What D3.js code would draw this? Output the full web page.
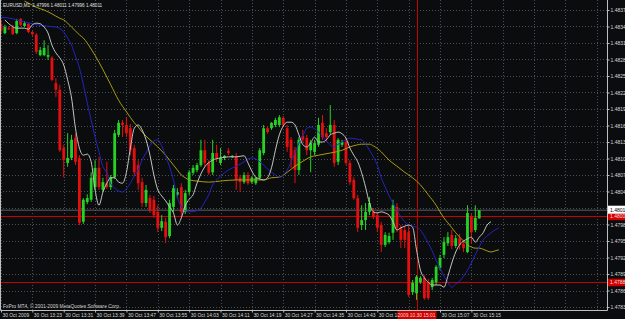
<!DOCTYPE html>
<html>
<head>
<meta charset="utf-8">
<script src="https://cdn.jsdelivr.net/npm/d3@7"></script>
<style>
html, body { margin: 0; padding: 0; background: #0b0c0d; }
svg { display: block; font-family: "Liberation Sans", Arial, sans-serif; }
</style>
</head>
<body>
<script>

const W = 625;
const H = 319;
const plotRight = 607;
const plotBottom = 310;

// EURUSD M1, 30 Oct 2009
const barTimes = [
  "13:15","13:16","13:17","13:18","13:19","13:20","13:21","13:22","13:23","13:24","13:25","13:26","13:27","13:28","13:29",
  "13:30","13:31","13:32","13:33","13:34","13:35","13:36","13:37","13:38","13:39","13:40","13:41","13:42","13:43","13:44",
  "13:45","13:46","13:47","13:48","13:49","13:50","13:51","13:52","13:53","13:54","13:55","13:56","13:57","13:58","13:59",
  "14:00","14:01","14:02","14:03","14:04","14:05","14:06","14:07","14:08","14:09","14:10","14:11","14:12","14:13","14:14",
  "14:15","14:16","14:17","14:18","14:19","14:20","14:21","14:22","14:23","14:24","14:25","14:26","14:27","14:28","14:29",
  "14:30","14:31","14:32","14:33","14:34","14:35","14:36","14:37","14:38","14:39","14:40","14:41","14:42","14:43","14:44",
  "14:45","14:46","14:47","14:48","14:49","14:50","14:51","14:52","14:53","14:54","14:55","14:56","14:57","14:58","14:59",
  "15:00","15:01","15:02","15:03","15:04","15:05","15:06","15:07","15:08","15:09","15:10","15:11","15:12","15:13","15:14",
  "15:15","15:16","15:17"
];

const opens = [
  1.48350,1.48333,1.48342,1.48344,1.48333,1.48359,1.48346,1.48350,1.48335,1.48330,1.48293,1.48293,1.48290,1.48288,1.48242,
  1.48230,1.48124,1.48097,1.48106,1.48142,1.48106,1.47990,1.48026,1.48030,1.48053,1.48088,1.48048,1.48060,1.48053,1.48071,
  1.48148,1.48170,1.48166,1.48160,1.48124,1.48093,1.48062,1.48024,1.48033,1.48030,1.48008,1.47979,1.47990,1.47964,1.48017,
  1.48039,1.48053,1.48008,1.48044,1.48079,1.48084,1.48093,1.48120,1.48097,1.48080,1.48115,1.48097,1.48106,1.48119,1.48108,
  1.48108,1.48070,1.48062,1.48075,1.48062,1.48060,1.48070,1.48115,1.48160,1.48160,1.48166,1.48166,1.48179,1.48160,1.48139,
  1.48120,1.48084,1.48146,1.48142,1.48120,1.48117,1.48130,1.48170,1.48151,1.48153,1.48166,1.48099,1.48130,1.48135,1.48097,
  1.48066,1.48033,1.47984,1.47993,1.48008,1.48008,1.48002,1.47984,1.47948,1.47953,1.47970,1.48017,1.47979,1.47975,1.47971,
  1.47862,1.47860,1.47880,1.47888,1.47880,1.47871,1.47880,1.47906,1.47930,1.47951,1.47966,1.47946,1.47960,1.47950,1.47935,
  1.48000,1.47975,1.47996
];
const highs = [
  1.48357,1.48348,1.48346,1.48348,1.48359,1.48360,1.48355,1.48351,1.48337,1.48333,1.48308,1.48320,1.48311,1.48291,1.48251,
  1.48239,1.48130,1.48151,1.48148,1.48151,1.48111,1.48033,1.48040,1.48080,1.48102,1.48108,1.48070,1.48099,1.48075,1.48157,
  1.48175,1.48175,1.48180,1.48168,1.48130,1.48102,1.48070,1.48057,1.48039,1.48037,1.48020,1.48002,1.47997,1.48030,1.48057,
  1.48051,1.48060,1.48048,1.48084,1.48093,1.48097,1.48139,1.48139,1.48102,1.48139,1.48130,1.48124,1.48111,1.48124,1.48111,
  1.48115,1.48075,1.48080,1.48080,1.48073,1.48071,1.48124,1.48166,1.48164,1.48171,1.48179,1.48184,1.48182,1.48166,1.48144,
  1.48126,1.48144,1.48157,1.48148,1.48139,1.48139,1.48179,1.48184,1.48160,1.48202,1.48175,1.48142,1.48139,1.48142,1.48102,
  1.48071,1.48039,1.48020,1.48024,1.48035,1.48015,1.48008,1.47990,1.47971,1.47970,1.48030,1.48024,1.47984,1.47982,1.47984,
  1.47884,1.47893,1.47891,1.47893,1.47886,1.47888,1.47911,1.47930,1.47962,1.47971,1.47975,1.47966,1.47968,1.47957,1.48020,
  1.48004,1.48020,1.48011
];
const lows = [
  1.48333,1.48331,1.48339,1.48330,1.48331,1.48346,1.48344,1.48333,1.48328,1.48295,1.48291,1.48291,1.48284,1.48246,1.48217,
  1.48117,1.48071,1.48090,1.48102,1.48093,1.47984,1.47986,1.48022,1.48026,1.48048,1.48048,1.48044,1.48050,1.48048,1.48068,
  1.48144,1.48144,1.48144,1.48111,1.48073,1.48048,1.48017,1.48017,1.48006,1.47997,1.47971,1.47973,1.47951,1.47960,1.48008,
  1.48033,1.47999,1.48004,1.48039,1.48075,1.48080,1.48090,1.48090,1.48075,1.48075,1.48099,1.48093,1.48102,1.48111,1.48106,
  1.48048,1.48044,1.48059,1.48057,1.48059,1.48057,1.48066,1.48111,1.48150,1.48157,1.48162,1.48162,1.48162,1.48117,1.48088,
  1.48060,1.48075,1.48135,1.48111,1.48080,1.48111,1.48126,1.48139,1.48135,1.48148,1.48090,1.48093,1.48126,1.48093,1.48057,
  1.48030,1.47971,1.47975,1.47975,1.48002,1.47995,1.47971,1.47935,1.47944,1.47950,1.47957,1.47971,1.47942,1.47942,1.47853,
  1.47857,1.47848,1.47877,1.47848,1.47848,1.47866,1.47875,1.47902,1.47924,1.47946,1.47940,1.47942,1.47939,1.47935,1.47933,
  1.47950,1.47971,1.47996
];
const closes = [
  1.48337,1.48344,1.48340,1.48331,1.48355,1.48348,1.48351,1.48335,1.48331,1.48299,1.48302,1.48306,1.48293,1.48248,1.48230,
  1.48120,1.48102,1.48106,1.48139,1.48099,1.47988,1.48030,1.48033,1.48070,1.48088,1.48053,1.48062,1.48053,1.48071,1.48151,
  1.48170,1.48166,1.48151,1.48120,1.48080,1.48060,1.48024,1.48048,1.48011,1.48002,1.47979,1.47991,1.47962,1.48024,1.48051,
  1.48044,1.48008,1.48042,1.48080,1.48088,1.48093,1.48120,1.48097,1.48079,1.48115,1.48106,1.48106,1.48110,1.48115,1.48110,
  1.48066,1.48062,1.48075,1.48060,1.48070,1.48070,1.48120,1.48160,1.48153,1.48170,1.48175,1.48180,1.48166,1.48126,1.48106,
  1.48084,1.48139,1.48139,1.48120,1.48133,1.48133,1.48166,1.48144,1.48144,1.48166,1.48097,1.48139,1.48135,1.48097,1.48062,
  1.48033,1.47979,1.47993,1.48008,1.48024,1.47999,1.47979,1.47948,1.47966,1.47964,1.48020,1.47979,1.47957,1.47957,1.47857,
  1.47879,1.47890,1.47888,1.47851,1.47851,1.47884,1.47908,1.47924,1.47953,1.47962,1.47946,1.47960,1.47948,1.47942,1.48006,
  1.47971,1.47997,1.48011
];

// moving averages (time, price)
const whiteMA = [
  ["13:16",1.48357],["13:17",1.48350],["13:19",1.48342],["13:21",1.48342],["13:22",1.48340],["13:23",1.48348],["13:24",1.48351],
  ["13:25",1.48350],["13:26",1.48344],["13:27",1.48333],["13:28",1.48311],["13:29",1.48297],["13:30",1.48288],["13:31",1.48275],
  ["13:32",1.48248],["13:33",1.48215],["13:34",1.48160],["13:35",1.48124],["13:36",1.48111],["13:37",1.48113],["13:38",1.48099],
  ["13:39",1.48048],["13:40",1.48020],["13:41",1.48044],["13:42",1.48060],["13:43",1.48070],["13:44",1.48070],["13:45",1.48062],
  ["13:46",1.48060],["13:47",1.48080],["13:48",1.48124],["13:49",1.48160],["13:50",1.48166],["13:51",1.48157],["13:52",1.48139],
  ["13:53",1.48111],["13:54",1.48075],["13:55",1.48048],["13:56",1.48037],["13:57",1.48028],["13:58",1.48017],["13:59",1.48006],
  ["14:00",1.47984],["14:01",1.47997],["14:02",1.48019],["14:03",1.48031],["14:04",1.48039],["14:05",1.48060],["14:07",1.48090],
  ["14:09",1.48102],["14:11",1.48106],["14:13",1.48108],["14:15",1.48108],["14:17",1.48110],["14:18",1.48097],["14:19",1.48082],
  ["14:20",1.48071],["14:21",1.48068],["14:22",1.48066],["14:23",1.48070],["14:24",1.48088],["14:25",1.48120],["14:26",1.48148],
  ["14:27",1.48164],["14:28",1.48171],["14:29",1.48171],["14:30",1.48166],["14:31",1.48148],["14:32",1.48130],["14:33",1.48126],
  ["14:34",1.48133],["14:35",1.48144],["14:36",1.48135],["14:37",1.48135],["14:38",1.48139],["14:39",1.48148],["14:40",1.48151],
  ["14:41",1.48153],["14:42",1.48150],["14:43",1.48142],["14:44",1.48124],["14:45",1.48111],["14:46",1.48099],["14:47",1.48079],
  ["14:48",1.48053],["14:49",1.48024],["14:50",1.48008],["14:51",1.48006],["14:52",1.48008],["14:53",1.48006],["14:54",1.48002],
  ["14:55",1.47990],["14:56",1.47975],["14:57",1.47979],["14:58",1.47982],["14:59",1.47984],["15:00",1.47980],["15:01",1.47939],
  ["15:02",1.47902],["15:03",1.47888],["15:04",1.47880],["15:05",1.47875],["15:06",1.47875],["15:07",1.47875],["15:08",1.47871],
  ["15:09",1.47891],["15:10",1.47915],["15:11",1.47935],["15:12",1.47948],["15:13",1.47955],["15:14",1.47959],["15:15",1.47962],
  ["15:16",1.47953],["15:17",1.47962],["15:18",1.47970],["15:19",1.47984],["15:20",1.47990]
];

const blueMA = [
  ["13:15",1.48362],["13:18",1.48359],["13:20",1.48355],["13:23",1.48350],["13:26",1.48346],["13:29",1.48344],["13:31",1.48335],
  ["13:32",1.48324],["13:33",1.48311],["13:34",1.48291],["13:35",1.48270],["13:36",1.48240],["13:37",1.48206],["13:38",1.48175],
  ["13:39",1.48144],["13:40",1.48117],["13:41",1.48090],["13:42",1.48079],["13:43",1.48059],["13:44",1.48051],["13:45",1.48046],
  ["13:46",1.48044],["13:47",1.48050],["13:48",1.48060],["13:49",1.48073],["13:50",1.48084],["13:51",1.48102],["13:52",1.48115],
  ["13:53",1.48128],["13:54",1.48137],["13:55",1.48139],["13:56",1.48128],["13:57",1.48110],["13:58",1.48090],["13:59",1.48066],
  ["14:00",1.48035],["14:01",1.48017],["14:02",1.48010],["14:03",1.48008],["14:05",1.48010],["14:06",1.48015],["14:07",1.48026],
  ["14:08",1.48039],["14:09",1.48057],["14:10",1.48066],["14:11",1.48073],["14:12",1.48079],["14:13",1.48084],["14:15",1.48091],
  ["14:17",1.48099],["14:18",1.48104],["14:19",1.48106],["14:20",1.48104],["14:21",1.48099],["14:22",1.48093],["14:23",1.48086],
  ["14:24",1.48080],["14:25",1.48075],["14:26",1.48071],["14:27",1.48075],["14:28",1.48084],["14:29",1.48099],["14:30",1.48115],
  ["14:31",1.48133],["14:32",1.48146],["14:33",1.48160],["14:34",1.48162],["14:35",1.48159],["14:36",1.48153],["14:37",1.48146],
  ["14:38",1.48137],["14:39",1.48130],["14:40",1.48126],["14:41",1.48131],["14:42",1.48135],["14:43",1.48139],["14:44",1.48142],
  ["14:46",1.48140],["14:47",1.48139],["14:48",1.48131],["14:49",1.48120],["14:50",1.48108],["14:51",1.48093],["14:52",1.48070],
  ["14:53",1.48053],["14:54",1.48037],["14:55",1.48024],["14:56",1.48011],["14:57",1.47999],["14:58",1.47990],["14:59",1.47984],
  ["15:00",1.47982],["15:01",1.47980],["15:02",1.47975],["15:03",1.47964],["15:04",1.47951],["15:05",1.47937],["15:06",1.47920],
  ["15:07",1.47906],["15:08",1.47891],["15:09",1.47880],["15:10",1.47871],["15:11",1.47877],["15:12",1.47882],["15:13",1.47891],
  ["15:14",1.47902],["15:15",1.47915],["15:16",1.47930],["15:17",1.47944],["15:18",1.47957],["15:19",1.47964],["15:20",1.47970],
  ["15:21",1.47975],["15:22",1.47979]
];

const yellowMA = [
  ["13:21",1.48391],["13:23",1.48384],["13:24",1.48380],["13:26",1.48375],["13:28",1.48368],["13:30",1.48360],["13:31",1.48357],
  ["13:33",1.48344],["13:35",1.48330],["13:36",1.48324],["13:38",1.48304],["13:40",1.48280],["13:42",1.48253],["13:43",1.48239],
  ["13:45",1.48211],["13:47",1.48190],["13:49",1.48170],["13:50",1.48162],["13:51",1.48153],["13:53",1.48139],["13:55",1.48126],
  ["13:57",1.48111],["13:59",1.48093],["14:00",1.48084],["14:01",1.48075],["14:02",1.48070],["14:03",1.48066],["14:05",1.48064],
  ["14:08",1.48062],["14:11",1.48064],["14:15",1.48066],["14:19",1.48066],["14:22",1.48066],["14:24",1.48070],["14:26",1.48071],
  ["14:28",1.48080],["14:30",1.48091],["14:32",1.48100],["14:34",1.48108],["14:36",1.48111],["14:39",1.48115],["14:42",1.48120],
  ["14:44",1.48126],["14:46",1.48130],["14:47",1.48131],["14:49",1.48131],["14:50",1.48128],["14:52",1.48117],["14:54",1.48102],
  ["14:56",1.48091],["14:58",1.48080],["15:00",1.48070],["15:02",1.48057],["15:04",1.48039],["15:06",1.48020],["15:07",1.48008],
  ["15:08",1.47997],["15:09",1.47988],["15:10",1.47979],["15:11",1.47970],["15:12",1.47962],["15:13",1.47955],["15:14",1.47948],
  ["15:15",1.47944],["15:16",1.47942],["15:17",1.47942],["15:18",1.47940],["15:19",1.47937],["15:20",1.47935],["15:21",1.47937],
  ["15:22",1.47939]
];

// 1.48015 sits under the bid label and is not printed there
const priceTicks = [
  1.48375,1.48345,1.48315,1.48285,1.48255,1.48225,1.48195,1.48165,1.48135,1.48105,
  1.48075,1.48045,1.47985,1.47955,1.47925,1.47895,1.47865,1.47835
];
const priceGrid = priceTicks.concat([1.48015]);

// 14:59 sits under the line label and is not printed there
const timeTicks = [
  "13:15","13:23","13:31","13:39","13:47","13:55","14:03","14:11",
  "14:19","14:27","14:35","14:43","14:51","15:07","15:15"
];
const gridTimes = timeTicks.concat(["14:59","15:23","15:31","15:39","15:47"]);

const hLines = [1.48000, 1.47880];
const vLine = "15:01";
const bid = 1.48011;
const title = "EURUSD,M1  1.47996 1.48011 1.47996 1.48011";
const copyright = "FxPro MT4, \u00A9 2001-2009 MetaQuotes Software Corp.";

const parse = d3.timeParse("%H:%M");

const x = d3.scaleTime()
  .domain([parse("13:15"), parse("15:50")])
  .range([1, 1 + 155 * 3.92]);

const y = d3.scaleLinear()
  .domain([1.48375, 1.47835])
  .range([10, 307]);

const svg = d3.select("body").append("svg")
  .attr("width", W)
  .attr("height", H);

svg.append("rect").attr("width", W).attr("height", H).attr("fill", "#0b0c0d");

svg.append("clipPath").attr("id", "plot")
  .append("rect").attr("x", 0).attr("y", 0).attr("width", plotRight).attr("height", plotBottom);

// grid
const grid = svg.append("g").attr("stroke", "#4b4f55").attr("stroke-dasharray", "1,2").attr("stroke-width", 1);
grid.selectAll(".gx").data(gridTimes).enter().append("line")
  .attr("x1", d => Math.round(x(parse(d))) + 0.5)
  .attr("x2", d => Math.round(x(parse(d))) + 0.5)
  .attr("y1", 0).attr("y2", plotBottom);
grid.selectAll(".gy").data(priceGrid).enter().append("line")
  .attr("x1", 0).attr("x2", plotRight)
  .attr("y1", d => Math.round(y(d)) + 0.5)
  .attr("y2", d => Math.round(y(d)) + 0.5);

const plot = svg.append("g").attr("clip-path", "url(#plot)");

// bid line
plot.append("line")
  .attr("x1", 0).attr("x2", plotRight)
  .attr("y1", y(bid)).attr("y2", y(bid))
  .attr("stroke", "#5a5e63").attr("stroke-width", 1);

// horizontal / vertical line objects
plot.selectAll(".hl").data(hLines).enter().append("line")
  .attr("x1", 0).attr("x2", plotRight)
  .attr("y1", d => Math.round(y(d)) + 0.5)
  .attr("y2", d => Math.round(y(d)) + 0.5)
  .attr("stroke", "#c80000").attr("stroke-width", 1);

plot.append("line")
  .attr("x1", Math.round(x(parse(vLine))) + 0.5)
  .attr("x2", Math.round(x(parse(vLine))) + 0.5)
  .attr("y1", 0).attr("y2", plotBottom)
  .attr("stroke", "#c80000").attr("stroke-width", 1);

// candles
const bars = barTimes.map((t, i) => ({
  t: parse(t), o: opens[i], h: highs[i], l: lows[i], c: closes[i]
}));
const colr = d => d.c >= d.o ? "#25d325" : "#e41010";

plot.selectAll(".wick").data(bars).enter().append("line")
  .attr("x1", d => x(d.t)).attr("x2", d => x(d.t))
  .attr("y1", d => y(d.h)).attr("y2", d => y(d.l))
  .attr("stroke", colr).attr("stroke-width", 1);

plot.selectAll(".body").data(bars).enter().append("rect")
  .attr("x", d => x(d.t) - 1.4)
  .attr("width", 2.8)
  .attr("y", d => y(Math.max(d.o, d.c)))
  .attr("height", d => Math.max(1, Math.abs(y(d.o) - y(d.c))))
  .attr("fill", colr);

// moving averages
const maLine = d3.line()
  .x(d => x(parse(d[0])))
  .y(d => y(d[1]))
  .curve(d3.curveMonotoneX);

[[yellowMA, "#a89c12"], [blueMA, "#2424c0"], [whiteMA, "#c4c4c4"]].forEach(([data, col]) => {
  plot.append("path")
    .attr("d", maLine(data))
    .attr("fill", "none")
    .attr("stroke", col)
    .attr("stroke-width", 1);
});

// frame
svg.append("path")
  .attr("d", `M0.5,0 V${plotBottom + 0.5} H${plotRight + 0.5} V0`)
  .attr("fill", "none")
  .attr("stroke", "#bfbfbf")
  .attr("stroke-width", 1);

// price axis
const yAxis = d3.axisRight(y).tickValues(priceTicks).tickFormat(d3.format(".5f"))
  .tickSize(2).tickSizeOuter(0).tickPadding(1);
const ya = svg.append("g").attr("transform", `translate(${plotRight + 0.5},0)`).call(yAxis);
ya.select(".domain").remove();
ya.selectAll("line").attr("stroke", "#bfbfbf");
ya.selectAll("text").attr("fill", "#d8d8d8").style("font-size", "5px")
  .style("font-family", "'Liberation Sans', Arial, sans-serif");

// time axis
const xAxis = d3.axisBottom(x).tickValues(timeTicks.map(parse))
  .tickFormat((d, i) => i === 0 ? "30 Oct 2009" : "30 Oct " + d3.timeFormat("%H:%M")(d))
  .tickSize(2).tickSizeOuter(0).tickPadding(1.5);
const xa = svg.append("g").attr("transform", `translate(0,${plotBottom + 0.5})`).call(xAxis);
xa.select(".domain").remove();
xa.selectAll("line").attr("stroke", "#bfbfbf");
xa.selectAll("text").attr("fill", "#d8d8d8").attr("text-anchor", "start").attr("dx", "1")
  .style("font-size", "4.9px").style("font-family", "'Liberation Sans', Arial, sans-serif");

// line object labels
hLines.forEach(p => {
  svg.append("rect").attr("x", plotRight + 1).attr("y", y(p) - 3.5).attr("width", 18).attr("height", 7.5)
    .attr("fill", "#d00000");
  svg.append("text").attr("x", plotRight + 3).attr("y", y(p) + 2).text(p.toFixed(5))
    .attr("fill", "#f4dada").style("font-size", "5px");
});

svg.append("rect").attr("x", plotRight + 1).attr("y", y(bid) - 4.5).attr("width", 18).attr("height", 8)
  .attr("fill", "#ffffff");
svg.append("text").attr("x", plotRight + 3).attr("y", y(bid) + 1.8).text(bid.toFixed(5))
  .attr("fill", "#000").style("font-size", "5px");

const vx = x(parse(vLine));
svg.append("rect").attr("x", vx - 19).attr("y", plotBottom + 1).attr("width", 39).attr("height", 8)
  .attr("fill", "#d00000");
svg.append("text").attr("x", vx).attr("y", plotBottom + 6.8).attr("text-anchor", "middle")
  .text("2009.10.30 " + vLine).attr("fill", "#f4dada").style("font-size", "4.9px");

// titles
svg.append("text").attr("x", 3).attr("y", 7).text(title)
  .attr("fill", "#e0e0e0").style("font-size", "4.6px").attr("xml:space", "preserve");
svg.append("text").attr("x", 3).attr("y", 307.5).text(copyright)
  .attr("fill", "#d0d0d0").style("font-size", "4.9px");

</script>
</body>
</html>
